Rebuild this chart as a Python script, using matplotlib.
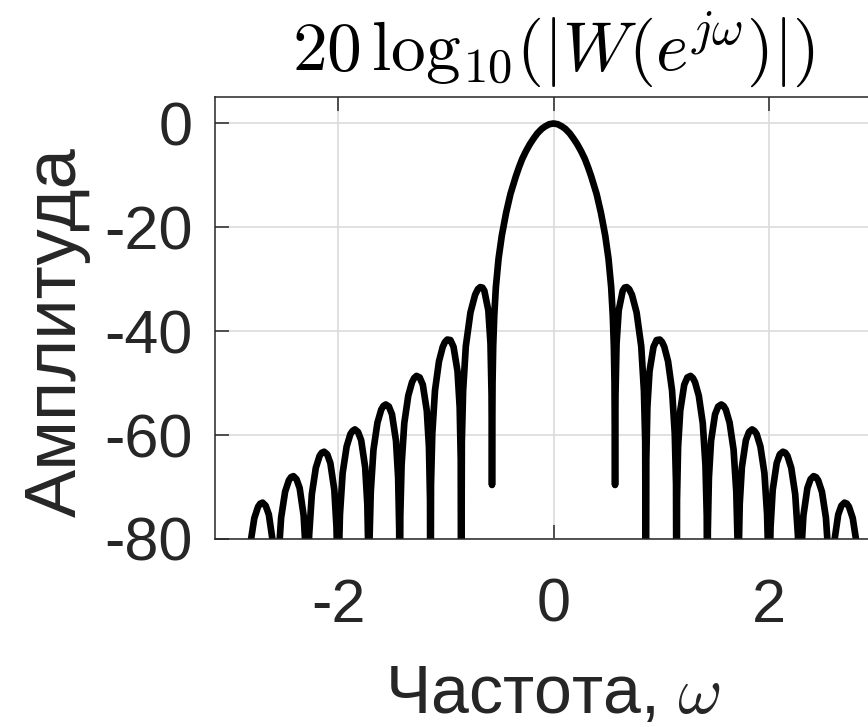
import numpy as np
import matplotlib
matplotlib.use('Agg')
import matplotlib.pyplot as plt

plt.rcParams['font.family'] = ['Liberation Sans', 'DejaVu Sans']
plt.rcParams['mathtext.fontset'] = 'cm'
plt.rcParams['axes.unicode_minus'] = False

# Spectrum, left half (from -pi up to 0)
w_neg = [-3.1416, -3.110, -3.060, -3.000, -2.940, -2.880,
         -2.856, -2.851, -2.839, -2.814, -2.777, -2.742, -2.722, -2.700, -2.671, -2.642, -2.605, -2.585, -2.575,
         -2.571, -2.565, -2.553, -2.528, -2.491, -2.456, -2.436, -2.414, -2.385, -2.356, -2.319, -2.299, -2.289,
         -2.285, -2.280, -2.268, -2.243, -2.206, -2.171, -2.151, -2.129, -2.100, -2.071, -2.034, -2.014, -2.004,
         -2.000, -1.994, -1.982, -1.957, -1.920, -1.885, -1.865, -1.843, -1.814, -1.785, -1.748, -1.728, -1.718,
         -1.714, -1.708, -1.696, -1.671, -1.634, -1.599, -1.579, -1.557, -1.528, -1.499, -1.462, -1.442, -1.432,
         -1.428, -1.422, -1.410, -1.385, -1.348, -1.313, -1.293, -1.271, -1.242, -1.213, -1.176, -1.156, -1.146,
         -1.142, -1.137, -1.125, -1.100, -1.063, -1.028, -1.008, -0.986, -0.957, -0.928, -0.891, -0.871, -0.861,
         -0.857, -0.851, -0.839, -0.814, -0.771, -0.728, -0.702, -0.680, -0.660, -0.642, -0.605, -0.585, -0.575,
         -0.571, -0.566, -0.560, -0.550, -0.535, -0.510, -0.480, -0.440, -0.400, -0.350,
         -0.320, -0.290, -0.255, -0.220, -0.185, -0.150, -0.110, -0.080, -0.040]
db_neg = [-110, -96, -87, -85, -88, -98,
          -110, -98.5, -88.9, -81.0, -76.0, -73.8, -73.2, -73.0, -73.6, -75.3, -80.6, -87.8, -98.1,
          -110, -93.4, -83.8, -75.9, -70.9, -68.7, -68.1, -67.9, -68.5, -70.2, -75.5, -82.7, -93.0,
          -110, -89.0, -79.3, -71.4, -66.3, -64.0, -63.4, -63.2, -63.7, -65.4, -70.6, -77.8, -88.1,
          -110, -84.9, -75.3, -67.3, -62.2, -59.8, -59.2, -58.9, -59.4, -61.0, -66.2, -73.3, -83.6,
          -110, -80.5, -70.9, -62.8, -57.6, -55.1, -54.4, -54.1, -54.5, -56.0, -61.1, -68.2, -78.4,
          -110, -75.6, -65.8, -57.7, -52.4, -49.8, -49.0, -48.6, -48.9, -50.3, -55.3, -62.3, -72.5,
          -110, -69.5, -59.7, -51.4, -45.8, -43.0, -42.1, -41.6, -41.7, -43.0, -47.7, -54.6, -64.7,
          -110, -61.4, -51.5, -42.9, -36.4, -33.0, -31.9, -31.5, -31.6, -32.2, -36.0, -42.4, -52.3,
          -69.6, -50.0, -43.0, -37.0, -31.5, -26.0, -21.6, -17.2, -13.6, -10.2,
          -8.4, -6.8, -5.3, -4.0, -2.9, -1.9, -1.05, -0.6, -0.15]

# right half (from 0 up to pi)
w_pos = [0.000, 0.040, 0.080, 0.110, 0.150, 0.185, 0.220, 0.255, 0.290, 0.320,
         0.350, 0.400, 0.440, 0.480, 0.510, 0.535, 0.550, 0.560, 0.566, 0.571,
         0.575, 0.585, 0.605, 0.642, 0.660, 0.680, 0.702, 0.728, 0.771, 0.814, 0.839, 0.851, 0.857,
         0.861, 0.871, 0.891, 0.928, 0.957, 0.986, 1.008, 1.028, 1.063, 1.100, 1.125, 1.137, 1.142,
         1.146, 1.156, 1.176, 1.213, 1.242, 1.271, 1.293, 1.313, 1.348, 1.385, 1.410, 1.422, 1.428,
         1.432, 1.442, 1.462, 1.499, 1.528, 1.557, 1.579, 1.599, 1.634, 1.671, 1.696, 1.708, 1.714,
         1.718, 1.728, 1.748, 1.785, 1.814, 1.843, 1.865, 1.885, 1.920, 1.957, 1.982, 1.994, 2.000,
         2.004, 2.014, 2.034, 2.071, 2.100, 2.129, 2.151, 2.171, 2.206, 2.243, 2.268, 2.280, 2.285,
         2.289, 2.299, 2.319, 2.356, 2.385, 2.414, 2.436, 2.456, 2.491, 2.528, 2.553, 2.565, 2.571,
         2.575, 2.585, 2.605, 2.642, 2.671, 2.700, 2.722, 2.742, 2.777, 2.814, 2.839, 2.851, 2.856,
         2.880, 2.940, 3.000, 3.060, 3.110, 3.1416]
db_pos = [0.0, -0.15, -0.6, -1.05, -1.9, -2.9, -4.0, -5.3, -6.8, -8.4,
          -10.2, -13.6, -17.2, -21.6, -26.0, -31.5, -37.0, -43.0, -50.0, -69.6,
          -52.3, -42.4, -36.0, -32.2, -31.6, -31.5, -31.9, -33.0, -36.4, -42.9, -51.5, -61.4, -110,
          -64.7, -54.6, -47.7, -43.0, -41.7, -41.6, -42.1, -43.0, -45.8, -51.4, -59.7, -69.5, -110,
          -72.5, -62.3, -55.3, -50.3, -48.9, -48.6, -49.0, -49.8, -52.4, -57.7, -65.8, -75.6, -110,
          -78.4, -68.2, -61.1, -56.0, -54.5, -54.1, -54.4, -55.1, -57.6, -62.8, -70.9, -80.5, -110,
          -83.6, -73.3, -66.2, -61.0, -59.4, -58.9, -59.2, -59.8, -62.2, -67.3, -75.3, -84.9, -110,
          -88.1, -77.8, -70.6, -65.4, -63.7, -63.2, -63.4, -64.0, -66.3, -71.4, -79.3, -89.0, -110,
          -93.0, -82.7, -75.5, -70.2, -68.5, -67.9, -68.1, -68.7, -70.9, -75.9, -83.8, -93.4, -110,
          -98.1, -87.8, -80.6, -75.3, -73.6, -73.0, -73.2, -73.8, -76.0, -81.0, -88.9, -98.5, -110,
          -98, -88, -85, -87, -96, -110]

x_ticks = [-2, 0, 2]
y_ticks = [-80, -60, -40, -20, 0]

w = w_neg + w_pos
db = db_neg + db_pos

fig = plt.figure(figsize=(8.68, 7.27), dpi=100)
ax = fig.add_axes([0.2477, 0.2586, 0.780, 0.6073])

ax.plot(w, db, color='k', lw=4.8, solid_joinstyle='round')

ax.set_xlim(-np.pi, np.pi)
ax.set_ylim(-80, 5)
ax.set_xticks(x_ticks)
ax.set_yticks(y_ticks)
ax.grid(True, color='#dcdcdc', lw=1.2)
ax.set_axisbelow(True)

ax.tick_params(direction='in', length=10, width=1.1, colors='#262626',
               labelsize=44, top=True, right=True)
ax.tick_params(axis='x', pad=28)
ax.tick_params(axis='y', pad=16)
for s in ax.spines.values():
    s.set_color('#262626')
    s.set_linewidth(1.1)

ax.set_title(r'$20\,\mathrm{log}_{10}(|W(e^{j\omega})|)$', fontsize=50, pad=19)
ax.set_xlabel('Частота, $\\omega$', fontsize=49, color='#262626')
ax.set_ylabel('Амплитуда', fontsize=52, color='#262626')
ax.xaxis.set_label_coords(0.5, -0.281)
ax.yaxis.set_label_coords(-0.183, 0.469)

fig.savefig('out.png', dpi=100)
